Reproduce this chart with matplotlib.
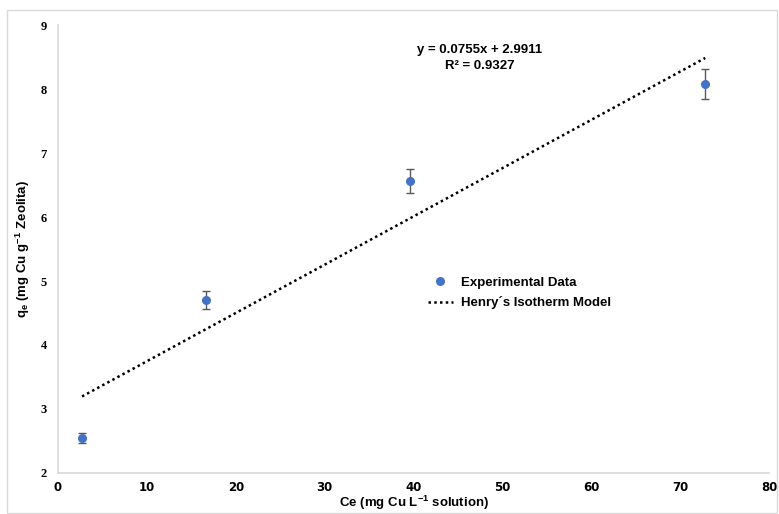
import matplotlib.pyplot as plt
from matplotlib.lines import Line2D
from matplotlib.patches import Rectangle

plt.rcParams['mathtext.default'] = 'regular'

# Copper adsorption on zeolite, Henry's isotherm fit
ce = [2.7, 16.6, 39.6, 72.8]
qe = [2.54, 4.71, 6.56, 8.08]
qe_err = [0.08, 0.14, 0.19, 0.24]

slope, intercept = 0.0755, 2.9911
r2 = 0.9327

x_ticks = [0, 10, 20, 30, 40, 50, 60, 70, 80]
y_ticks = [2, 3, 4, 5, 6, 7, 8, 9]

fig = plt.figure(figsize=(7.79, 5.14), dpi=100)
ax = fig.add_axes([0.0745, 0.08, 0.913, 0.871])

# chart area border
fig.patches.append(Rectangle((0.009, 0.002), 0.988, 0.978, transform=fig.transFigure,
                             fill=False, edgecolor='#d9d9d9', linewidth=1))

blue = '#4472c4'
ax.errorbar(ce, qe, yerr=qe_err, fmt='o', color=blue, markersize=5.5,
            ecolor='#595959', elinewidth=1, capsize=3, capthick=1, zorder=3)

fit_x = [ce[0], ce[-1]]
fit_y = [slope * v + intercept for v in fit_x]
ax.plot(fit_x, fit_y, linestyle=(0, (1, 1.3)), color='black', linewidth=1.8)

fig.text(480 / 779, 1 - 58 / 514, f'y = {slope}x + {intercept}\nR\u00b2 = {r2}',
         ha='center', va='center', fontsize=9.5, fontweight='bold',
         family='Liberation Sans', linespacing=1.35)

ax.set_xlim(0, 80)
ax.set_ylim(2, 9)
ax.set_xticks(x_ticks)
ax.set_yticks(y_ticks)
ax.tick_params(axis='y', length=0, pad=8)
ax.tick_params(axis='x', length=0, pad=6)
for lab in ax.get_xticklabels():
    lab.set_fontweight('bold')
    lab.set_fontsize(8.5)
    lab.set_family('Liberation Sans Narrow')
for lab in ax.get_yticklabels():
    lab.set_fontweight('bold')
    lab.set_fontsize(9)
    lab.set_family('Liberation Serif')

for side in ['top', 'right']:
    ax.spines[side].set_visible(False)
for side in ['left', 'bottom']:
    ax.spines[side].set_color('#d9d9d9')
    ax.spines[side].set_linewidth(1.2)

ax.set_xlabel('Ce (mg Cu L$^{-1}$ solution)', fontsize=9.5, fontweight='bold',
              family='Liberation Sans', labelpad=0)
ax.set_ylabel('q$_e$ (mg Cu g$^{-1}$ Zeolita)', fontsize=9.5, fontweight='bold',
              family='Liberation Sans', labelpad=6)

handles = [
    Line2D([], [], marker='o', color=blue, linestyle='none', markersize=5.5),
    Line2D([], [], linestyle=(0, (1, 1.3)), color='black', linewidth=1.8),
]
labels = ['Experimental Data', 'Henry\u00b4s Isotherm Model']
ax.legend(handles, labels, loc='center left', bbox_to_anchor=(0.52, 0.402), frameon=False,
          prop={'family': 'Liberation Sans', 'weight': 'bold', 'size': 9.5},
          handlelength=1.9, handletextpad=0.6, labelspacing=0.55,
          borderpad=0, borderaxespad=0)

fig.savefig('out.png', dpi=100)
